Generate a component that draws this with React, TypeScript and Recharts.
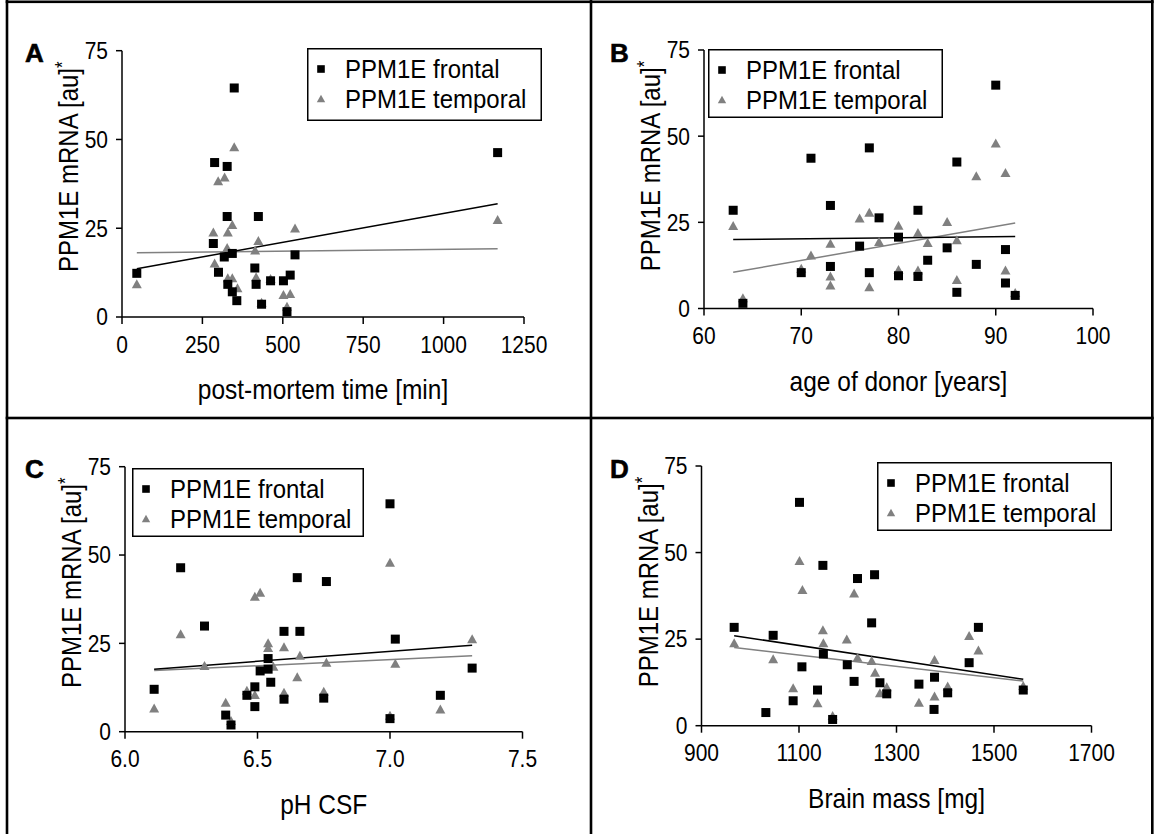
import React from 'react';
import { ScatterChart, Scatter, XAxis, YAxis, Legend } from 'recharts';

const FONT = "'Liberation Sans', Arial, Helvetica, sans-serif";
const GRAY = '#808080';

type Pt = [number, number];

// ---------- Panel A: post-mortem time ----------
const aFrontal: Pt[] = [
  [46, 12.3], [288, 43.5], [327, 42.4], [327, 28.3], [424, 28.3], [284, 20.7], [343, 17.9],
  [318, 16.9], [538, 17.5], [300, 12.6], [413, 13.8], [329, 9.2], [417, 9.2], [462, 10.2],
  [502, 10.2], [523, 11.8], [343, 7.1], [357, 4.6], [434, 3.6], [513, 1.5], [349, 64.5], [1168, 46.3],
];
const aTemporal: Pt[] = [
  [46, 9.2], [349, 47.8], [299, 38.2], [319, 39.3], [343, 25.9], [284, 23.8], [329, 23.8],
  [538, 24.9], [424, 21.4], [327, 19.4], [414, 18.7], [288, 15.1], [329, 10.9], [343, 10.9],
  [417, 11.2], [462, 10.7], [359, 8.1], [502, 6.2], [523, 6.5], [513, 2.9], [434, 4.0], [1168, 27.3],
];
const aFitFrontal: Pt[] = [[46, 13.6], [1168, 31.9]];
const aFitTemporal: Pt[] = [[46, 18.1], [1168, 19.2]];
const aXTicks = [0, 250, 500, 750, 1000, 1250];
const aXLabels = ['0', '250', '500', '750', '1000', '1250'];

// ---------- Panel B: age of donor ----------
const bFrontal: Pt[] = [
  [63, 28.5], [64, 1.5], [71, 43.6], [70, 10.4], [90, 64.8], [77, 46.6], [86, 42.5], [73, 29.9],
  [82, 28.5], [78, 26.3], [76, 18.1], [80, 20.7], [85, 17.6], [91, 17.1], [83, 14.0], [88, 12.8],
  [73, 12.2], [77, 10.4], [80, 9.5], [82, 9.3], [86, 4.7], [91, 7.4], [92, 3.8],
];
const bTemporal: Pt[] = [
  [63, 23.9], [64, 3.0], [70, 11.5], [71, 15.4], [90, 47.9], [88, 38.4], [91, 39.3], [76, 26.1],
  [77, 27.8], [80, 24.0], [85, 25.1], [73, 18.8], [78, 19.3], [82, 21.9], [83, 19.0], [86, 19.8],
  [73, 9.3], [73, 6.7], [77, 6.2], [80, 11.2], [82, 11.0], [86, 8.3], [91, 11.0], [92, 4.5],
];
const bFitFrontal: Pt[] = [[63, 20.0], [92, 20.9]];
const bFitTemporal: Pt[] = [[63, 10.5], [92, 24.8]];
const bXTicks = [60, 70, 80, 90, 100];
const bXLabels = ['60', '70', '80', '90', '100'];

// ---------- Panel C: pH CSF ----------
const cFrontal: Pt[] = [
  [6.11, 12.0], [6.21, 46.4], [6.30, 29.9], [6.38, 4.7], [6.40, 1.9], [6.46, 10.3], [6.49, 12.7],
  [6.49, 7.1], [6.51, 17.2], [6.54, 17.7], [6.54, 20.7], [6.55, 14.0], [6.60, 28.4], [6.60, 9.2],
  [6.65, 43.6], [6.66, 28.4], [6.76, 42.5], [6.75, 9.5], [7.00, 64.5], [7.02, 26.2], [7.00, 3.7],
  [7.19, 10.3], [7.31, 18.0],
];
const cTemporal: Pt[] = [
  [6.11, 6.6], [6.21, 27.6], [6.30, 18.6], [6.38, 8.2], [6.40, 3.0], [6.49, 38.2], [6.51, 39.3],
  [6.46, 11.6], [6.49, 10.4], [6.54, 25.0], [6.54, 23.7], [6.56, 18.4], [6.60, 23.9], [6.60, 11.0],
  [6.66, 21.5], [6.65, 15.4], [6.76, 19.5], [6.75, 11.3], [7.00, 47.8], [7.02, 19.2], [7.00, 4.5],
  [7.19, 6.3], [7.31, 26.2],
];
const cFitFrontal: Pt[] = [[6.11, 17.7], [7.31, 24.5]];
const cFitTemporal: Pt[] = [[6.11, 17.3], [7.31, 21.5]];
const cXTicks = [6.0, 6.5, 7.0, 7.5];
const cXLabels = ['6.0', '6.5', '7.0', '7.5'];

// ---------- Panel D: brain mass ----------
const dFrontal: Pt[] = [
  [967, 28.4], [1047, 26.1], [1032, 3.8], [1101, 64.5], [1106, 17.0], [1088, 7.2], [1149, 46.3],
  [1150, 20.7], [1138, 10.3], [1169, 1.8], [1220, 42.5], [1199, 17.6], [1213, 12.8], [1255, 43.6],
  [1249, 29.7], [1266, 12.4], [1280, 9.2], [1346, 12.0], [1378, 14.0], [1377, 4.7], [1405, 9.5],
  [1449, 18.2], [1468, 28.4], [1560, 10.3],
];
const dTemporal: Pt[] = [
  [967, 23.8], [1047, 19.2], [1101, 47.6], [1107, 39.2], [1088, 10.8], [1149, 27.6], [1150, 23.8],
  [1138, 6.5], [1169, 2.8], [1213, 38.2], [1198, 24.9], [1220, 19.6], [1249, 18.7], [1256, 15.3],
  [1266, 9.4], [1280, 11.1], [1346, 6.6], [1378, 19.0], [1378, 8.4], [1405, 11.3], [1449, 25.9],
  [1468, 21.7], [1560, 11.5],
];
const dFitFrontal: Pt[] = [[967, 26.0], [1560, 13.4]];
const dFitTemporal: Pt[] = [[967, 22.6], [1560, 12.9]];
const dXTicks = [900, 1100, 1300, 1500, 1700];
const dXLabels = ['900', '1100', '1300', '1500', '1700'];

const yTicks = [0, 25, 50, 75];
const yLabels = ['0', '25', '50', '75'];
const seriesNames = ['PPM1E frontal', 'PPM1E temporal'];
const yTitle = 'PPM1E mRNA [au]';

const toPts = (a: Pt[]) => a.map(([x, y]) => ({ x, y }));

const Square = (p: any) => (
  <rect x={p.cx - 4.5} y={p.cy - 4.5} width={9} height={9} fill="#000" />
);
const Tri = (p: any) => (
  <path
    d={`M${p.cx},${p.cy - 5} L${p.cx + 5},${p.cy + 4} L${p.cx - 5},${p.cy + 4} Z`}
    fill={GRAY}
  />
);
const NoDot = () => <g />;

const XTick = (labels: string[]) => (p: any) => (
  <text
    transform={`translate(${p.x},${p.y}) scale(1,1.12)`}
    textAnchor="middle"
    dy="0.71em"
    fontSize={21}
    fontFamily={FONT}
    fill="#000"
  >
    {labels[p.index]}
  </text>
);
const YTick = (p: any) => (
  <text
    transform={`translate(${p.x},${p.y}) scale(1,1.12)`}
    textAnchor="end"
    dy="0.355em"
    fontSize={21}
    fontFamily={FONT}
    fill="#000"
  >
    {yLabels[p.index]}
  </text>
);

const LegendBox = ({ w, h }: { w: number; h: number }) => {
  const r1 = 21;
  const r2 = 51;
  return (
    <svg width={w} height={h} style={{ overflow: 'visible', display: 'block' }}>
      <rect x={0.75} y={0.75} width={w - 1.5} height={h - 1.5} fill="none" stroke="#000" strokeWidth={1.5} />
      <rect x={14 - 3.8} y={r1 - 3.8} width={7.6} height={7.6} fill="#000" />
      <path d={`M14,${r2 - 4.2} L18.2,${r2 + 3.3} L9.8,${r2 + 3.3} Z`} fill={GRAY} />
      <text transform={`translate(38,${r1}) scale(1,1.08)`} dy="0.355em" fontSize={24} fontFamily={FONT} fill="#000">
        {seriesNames[0]}
      </text>
      <text transform={`translate(38,${r2}) scale(1,1.08)`} dy="0.355em" fontSize={24} fontFamily={FONT} fill="#000">
        {seriesNames[1]}
      </text>
    </svg>
  );
};

type Cfg = {
  left: number; right: number; top: number; bottom: number;
  xDomain: [number, number]; xTicks: number[]; xLabels: string[]; xTitle: string;
  frontal: Pt[]; temporal: Pt[]; fitF: Pt[]; fitT: Pt[];
  leg: { left: number; top: number; w: number; h: number };
};

const panels: Cfg[] = [
  {
    left: 122, right: 524, top: 50.7, bottom: 317,
    xDomain: [0, 1250], xTicks: aXTicks, xLabels: aXLabels, xTitle: 'post-mortem time [min]',
    frontal: aFrontal, temporal: aTemporal, fitF: aFitFrontal, fitT: aFitTemporal,
    leg: { left: 307, top: 48, w: 235, h: 73 },
  },
  {
    left: 704, right: 1093, top: 50, bottom: 308.5,
    xDomain: [60, 100], xTicks: bXTicks, xLabels: bXLabels, xTitle: 'age of donor [years]',
    frontal: bFrontal, temporal: bTemporal, fitF: bFitFrontal, fitT: bFitTemporal,
    leg: { left: 708, top: 49, w: 235, h: 69 },
  },
  {
    left: 125, right: 522.5, top: 466.7, bottom: 731.7,
    xDomain: [6.0, 7.5], xTicks: cXTicks, xLabels: cXLabels, xTitle: 'pH CSF',
    frontal: cFrontal, temporal: cTemporal, fitF: cFitFrontal, fitT: cFitTemporal,
    leg: { left: 132, top: 468, w: 232, h: 69 },
  },
  {
    left: 701.5, right: 1091.5, top: 466, bottom: 725.7,
    xDomain: [900, 1700], xTicks: dXTicks, xLabels: dXLabels, xTitle: 'Brain mass [mg]',
    frontal: dFrontal, temporal: dTemporal, fitF: dFitFrontal, fitT: dFitTemporal,
    leg: { left: 877, top: 462, w: 235, h: 69 },
  },
];

const W = 1155;
const H = 834;
const YW = 80;
const XH = 100;

function Panel({ c }: { c: Cfg }) {
  const margin = { left: c.left - YW, right: W - c.right, top: c.top, bottom: H - c.bottom - XH };
  const axisStyle = { stroke: '#000', strokeWidth: 1.5 };
  const cx = (c.left + c.right) / 2;
  return (
    <div style={{ position: 'absolute', left: 0, top: 0 }}>
      <ScatterChart width={W} height={H} margin={margin}>
        <XAxis
          type="number"
          dataKey="x"
          domain={c.xDomain}
          ticks={c.xTicks}
          interval={0}
          allowDataOverflow
          height={XH}
          tickSize={7}
          tickMargin={12}
          axisLine={axisStyle}
          tickLine={axisStyle}
          tick={XTick(c.xLabels)}
          label={{
            content: () => (
              <text
                transform={`translate(${cx},${c.bottom + 82}) scale(1,1.12)`}
                textAnchor="middle"
                fontSize={24.5}
                fontFamily={FONT}
                fill="#000"
              >
                {c.xTitle}
              </text>
            ),
          }}
        />
        <YAxis
          type="number"
          dataKey="y"
          domain={[0, 75]}
          ticks={yTicks}
          interval={0}
          allowDataOverflow
          width={YW}
          tickSize={6}
          tickMargin={8}
          axisLine={axisStyle}
          tickLine={axisStyle}
          tick={YTick}
          label={{
            content: () => (
              <text
                transform={`translate(${c.left - 44},${c.top + 116}) rotate(-90) scale(1,1.15)`}
                textAnchor="middle"
                fontSize={24}
                fontFamily={FONT}
                fill="#000"
              >
                <tspan>{yTitle}</tspan>
                <tspan dy="-0.45em" fontSize={17}>*</tspan>
              </text>
            ),
          }}
        />
        <Legend
          layout="horizontal"
          verticalAlign="middle"
          align="center"
          width={c.leg.w}
          wrapperStyle={{
            position: 'absolute', left: c.leg.left, top: c.leg.top, width: c.leg.w, height: c.leg.h,
            margin: 0, padding: 0, lineHeight: 0,
          }}
          content={() => <LegendBox w={c.leg.w} h={c.leg.h} />}
        />
        <Scatter
          name="fit temporal"
          data={toPts(c.fitT)}
          line={{ stroke: GRAY, strokeWidth: 1.5 }}
          shape={NoDot}
          legendType="none"
          isAnimationActive={false}
        />
        <Scatter
          name="fit frontal"
          data={toPts(c.fitF)}
          line={{ stroke: '#000', strokeWidth: 1.5 }}
          shape={NoDot}
          legendType="none"
          isAnimationActive={false}
        />
        <Scatter name={seriesNames[1]} data={toPts(c.temporal)} shape={Tri} isAnimationActive={false} />
        <Scatter name={seriesNames[0]} data={toPts(c.frontal)} shape={Square} isAnimationActive={false} />
      </ScatterChart>
    </div>
  );
}

const letters = [
  { t: 'A', x: 25, y: 62 },
  { t: 'B', x: 610, y: 62 },
  { t: 'C', x: 25, y: 478 },
  { t: 'D', x: 610, y: 478 },
];

export default function App() {
  return (
    <div style={{ position: 'absolute', left: 0, top: 0, width: W, height: H, background: '#fff', overflow: 'hidden' }}>
      {panels.map((c, i) => (
        <Panel key={i} c={c} />
      ))}
      <svg width={W} height={H} style={{ position: 'absolute', left: 0, top: 0, pointerEvents: 'none' }}>
        <rect x={5.7} y={0} width={2.6} height={H} fill="#000" />
        <rect x={589.7} y={0} width={2.6} height={H} fill="#000" />
        <rect x={1151} y={0} width={2.6} height={H} fill="#000" />
        <rect x={5.7} y={0.5} width={1148} height={2.6} fill="#000" />
        <rect x={5.7} y={416.7} width={1148} height={2.6} fill="#000" />
        {letters.map((l) => (
          <text
            key={l.t}
            x={l.x}
            y={l.y}
            fontSize={26}
            fontWeight="bold"
            fontFamily={FONT}
            fill="#000"
            stroke="#000"
            strokeWidth={0.6}
          >
            {l.t}
          </text>
        ))}
      </svg>
    </div>
  );
}
